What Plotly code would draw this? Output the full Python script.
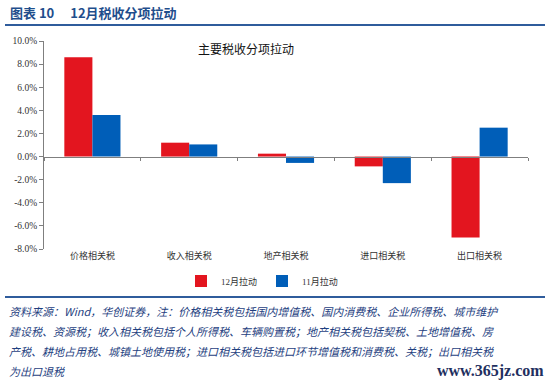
import plotly.graph_objects as go

categories = ["价格相关税", "收入相关税", "地产相关税", "进口相关税", "出口相关税"]
dec_values = [8.6, 1.2, 0.25, -0.85, -7.0]
nov_values = [3.6, 1.05, -0.55, -2.3, 2.5]
series_names = ["12月拉动", "11月拉动"]
y_ticks = [-8, -6, -4, -2, 0, 2, 4, 6, 8, 10]
y_tick_labels = ["-8.0%", "-6.0%", "-4.0%", "-2.0%", "0.0%", "2.0%", "4.0%", "6.0%", "8.0%", "10.0%"]

W, H = 550, 386
ML, MR, MT, MB = 44, 22, 41, 137
PW, PH = W - ML - MR, H - MT - MB

def px(x):
    return (x - ML) / PW

def py(y):
    return (H - MB - y) / PH

RED = "#E3151F"
BLUE = "#005EB8"
NAVY = "#1F3F7F"

fig = go.Figure()
fig.add_trace(go.Bar(x=categories, y=dec_values, name=series_names[0],
                     marker=dict(color=RED, line=dict(width=0))))
fig.add_trace(go.Bar(x=categories, y=nov_values, name=series_names[1],
                     marker=dict(color=BLUE, line=dict(width=0))))

ymin, ymax = -8, 10
zero_pos = (0 - ymin) / (ymax - ymin)

fig.update_layout(
    width=W, height=H,
    margin=dict(l=ML, r=MR, t=MT, b=MB, autoexpand=False),
    paper_bgcolor="white", plot_bgcolor="white",
    barmode="group", bargap=0.42, bargroupgap=0,
    showlegend=True,
    legend=dict(orientation="h", x=px(262), xanchor="center", y=py(281), yanchor="middle",
                font=dict(family="Liberation Serif, Noto Sans CJK SC", size=9, color="#333"),
                itemwidth=30, entrywidth=36, tracegroupgap=0, bgcolor="rgba(0,0,0,0)"),
    xaxis=dict(type="category", anchor="free", position=zero_pos, automargin=False,
               showline=True, linecolor="#7F7F7F", linewidth=1,
               ticks="outside", tickson="boundaries", ticklen=3, tickcolor="#7F7F7F",
               showticklabels=False, showgrid=False, zeroline=False),
    xaxis2=dict(overlaying="x", anchor="y", side="bottom", range=[-0.5, 4.5], automargin=False,
                tickmode="array", tickvals=list(range(len(categories))), ticktext=categories,
                showline=False, showgrid=False, zeroline=False, ticks="",
                tickfont=dict(family="Noto Sans CJK SC", size=9, color="#333")),
    yaxis=dict(range=[ymin, ymax], tickmode="array", tickvals=y_ticks, ticktext=y_tick_labels,
               automargin=False,
               showline=True, linecolor="#7F7F7F", linewidth=1,
               ticks="outside", ticklen=4, tickcolor="#7F7F7F",
               showgrid=False, zeroline=False,
               tickfont=dict(family="Liberation Serif", size=9.5, color="#333")),
)
# invisible helper trace so the bottom label axis renders
fig.add_trace(go.Scatter(x=[0], y=[0], xaxis="x2", mode="markers",
                         marker=dict(opacity=0), showlegend=False, hoverinfo="skip"))

annotations = [
    dict(text="<b>图表 10　 12月税收分项拉动</b>", x=px(8), y=py(12), xanchor="left", yanchor="middle",
         font=dict(family="Noto Sans CJK SC", size=13, color="#1F4E8C")),
    dict(text="主要税收分项拉动", x=px(246), y=py(48), xanchor="center", yanchor="middle",
         font=dict(family="Noto Sans CJK SC", size=12, color="#111")),
    dict(text="<b>www.365jz.com</b>", x=px(546), y=py(371), xanchor="right", yanchor="middle",
         font=dict(family="Liberation Serif", size=16, color="#1F3060")),
]
foot_lines = [
    "资料来源：Wind，华创证券，注：价格相关税包括国内增值税、国内消费税、企业所得税、城市维护",
    "建设税、资源税；收入相关税包括个人所得税、车辆购置税；地产相关税包括契税、土地增值税、房",
    "产税、耕地占用税、城镇土地使用税；进口相关税包括进口环节增值税和消费税、关税；出口相关税",
    "为出口退税",
]
for i, t in enumerate(foot_lines):
    annotations.append(dict(text="<i>" + t + "</i>", x=px(7), y=py(311 + 20 * i),
                            xanchor="left", yanchor="middle",
                            font=dict(family="Noto Sans CJK SC", size=11, color=NAVY)))
for a in annotations:
    a.update(xref="paper", yref="paper", showarrow=False)
fig.update_layout(annotations=annotations)

fig.update_layout(shapes=[
    dict(type="line", xref="paper", yref="paper", x0=px(5), x1=px(545), y0=py(25), y1=py(25),
         line=dict(color="#2F5C9C", width=2)),
    dict(type="line", xref="paper", yref="paper", x0=px(5), x1=px(545), y0=py(297), y1=py(297),
         line=dict(color="#2F5C9C", width=2)),
])

fig.write_html("out.html", config={"displayModeBar": False},
               post_script="document.body.style.margin='0';")
